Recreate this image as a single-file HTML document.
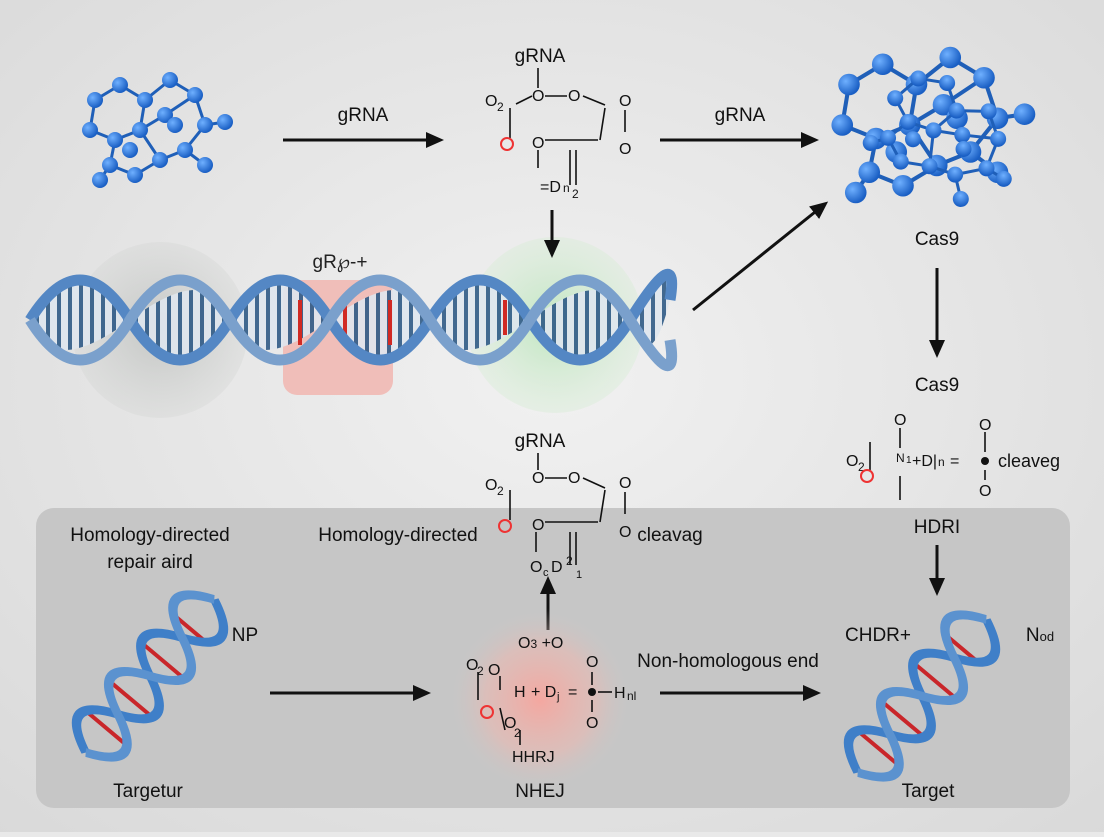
<!DOCTYPE html>
<html><head><meta charset="utf-8"><style>
html,body{margin:0;padding:0;}
body{width:1104px;height:832px;overflow:hidden;background:#e9e9e9;font-family:"Liberation Sans",sans-serif;}
</style></head><body>
<svg width="1104" height="832" viewBox="0 0 1104 832" xmlns="http://www.w3.org/2000/svg" font-family="Liberation Sans, sans-serif">
<defs>
<radialGradient id="bg" cx="50%" cy="45%" r="75%"><stop offset="0" stop-color="#f1f1f1"/><stop offset="1" stop-color="#d9d9d9"/></radialGradient>
<radialGradient id="ball" cx="35%" cy="35%" r="65%"><stop offset="0" stop-color="#6fb0ff"/><stop offset="1" stop-color="#1a5fc4"/></radialGradient>
<radialGradient id="gray" r="50%"><stop offset="0" stop-color="#c4c6c4"/><stop offset="1" stop-color="#cfd1cf" stop-opacity="0.3"/></radialGradient>
<radialGradient id="green" r="50%"><stop offset="0" stop-color="#bfe6c0"/><stop offset="1" stop-color="#d6ecd4" stop-opacity="0.4"/></radialGradient>
<radialGradient id="red" r="50%"><stop offset="0" stop-color="#f4a7a0"/><stop offset="0.6" stop-color="#e9b9b2" stop-opacity="0.6"/><stop offset="1" stop-color="#c8c8c8" stop-opacity="0"/></radialGradient>
<pattern id="rungs" width="11" height="20" patternUnits="userSpaceOnUse"><rect width="11" height="20" fill="#dfe6ee"/><rect x="2" width="4" height="20" fill="#2f5a86"/></pattern>
<marker id="ah" markerWidth="18" markerHeight="18" refX="14" refY="9" orient="auto" markerUnits="userSpaceOnUse"><path d="M0,1 L18,9 L0,17 Z" fill="#111"/></marker>
<g id="vh">
<path d="M-100,0 Q-75,-45 -50,0 T0,0 T50,0 T100,0 L100,0 Q75,45 50,0 T0,0 T-50,0 T-100,0 Z" fill="url(#rungs)"/>
<g stroke="#c9262a" stroke-width="4"><line x1="-68" y1="-20" x2="-68" y2="20"/><line x1="-30" y1="-18" x2="-30" y2="18"/><line x1="20" y1="-18" x2="20" y2="18"/><line x1="62" y1="-18" x2="62" y2="18"/></g>
<path d="M-100,0 Q-75,-45 -50,0 T0,0 T50,0 T100,0" fill="none" stroke="#3f7fc8" stroke-width="8"/>
<path d="M-100,0 Q-75,45 -50,0 T0,0 T50,0 T100,0" fill="none" stroke="#5b92cf" stroke-width="8"/>
</g>
<g id="mol" stroke="#1f5fb8" stroke-width="3">
<line x1="-60" y1="-30" x2="-35" y2="-45"/><line x1="-35" y1="-45" x2="-10" y2="-30"/><line x1="-10" y1="-30" x2="15" y2="-50"/><line x1="15" y1="-50" x2="40" y2="-35"/><line x1="40" y1="-35" x2="50" y2="-5"/><line x1="50" y1="-5" x2="70" y2="-8"/><line x1="-60" y1="-30" x2="-65" y2="0"/><line x1="-65" y1="0" x2="-40" y2="10"/><line x1="-40" y1="10" x2="-15" y2="0"/><line x1="-15" y1="0" x2="10" y2="-15"/><line x1="10" y1="-15" x2="40" y2="-35"/><line x1="-40" y1="10" x2="-45" y2="35"/><line x1="-45" y1="35" x2="-20" y2="45"/><line x1="-20" y1="45" x2="5" y2="30"/><line x1="5" y1="30" x2="30" y2="20"/><line x1="30" y1="20" x2="50" y2="-5"/><line x1="5" y1="30" x2="-15" y2="0"/><line x1="30" y1="20" x2="50" y2="35"/><line x1="-10" y1="-30" x2="-15" y2="0"/><line x1="-45" y1="35" x2="-55" y2="50"/>
<g fill="url(#ball)" stroke="none">
<circle cx="-60" cy="-30" r="8"/><circle cx="-35" cy="-45" r="8"/><circle cx="-10" cy="-30" r="8"/><circle cx="15" cy="-50" r="8"/><circle cx="40" cy="-35" r="8"/><circle cx="50" cy="-5" r="8"/><circle cx="70" cy="-8" r="8"/><circle cx="-65" cy="0" r="8"/><circle cx="-40" cy="10" r="8"/><circle cx="-15" cy="0" r="8"/><circle cx="10" cy="-15" r="8"/><circle cx="-45" cy="35" r="8"/><circle cx="-20" cy="45" r="8"/><circle cx="5" cy="30" r="8"/><circle cx="30" cy="20" r="8"/><circle cx="50" cy="35" r="8"/><circle cx="-55" cy="50" r="8"/><circle cx="-25" cy="20" r="8"/><circle cx="20" cy="-5" r="8"/>
</g></g>
</defs>
<rect width="1104" height="832" fill="url(#bg)"/>
<rect x="36" y="508" width="1034" height="300" rx="18" fill="#c6c6c6"/>

<use href="#mol" transform="translate(155 130)"/>
<use href="#mol" transform="translate(930 125) scale(1.35)"/>
<use href="#mol" transform="translate(945 140) rotate(40)"/>

<circle cx="160" cy="330" r="88" fill="url(#gray)"/>
<rect x="283" y="280" width="110" height="115" rx="14" fill="#f1b3ad" opacity="0.8"/>
<circle cx="555" cy="325" r="88" fill="url(#green)"/>
<path d="M30,320 Q80,240 130,320 T230,320 T330,320 T430,320 T530,320 T630,320 T670,300 L670,300 Q650,380 630,320 T530,320 T430,320 T330,320 T230,320 T130,320 T30,320 Z" fill="url(#rungs)" opacity="0.9"/>
<g stroke="#d12a24" stroke-width="4"><line x1="300" y1="300" x2="300" y2="345"/><line x1="345" y1="300" x2="345" y2="345"/><line x1="390" y1="300" x2="390" y2="345"/><line x1="505" y1="300" x2="505" y2="335"/></g>
<path d="M30,320 Q80,240 130,320 T230,320 T330,320 T430,320 T530,320 T630,320 T670,300" fill="none" stroke="#5487c4" stroke-width="11"/>
<path d="M30,320 Q80,400 130,320 T230,320 T330,320 T430,320 T530,320 T630,320 T670,340" fill="none" stroke="#7aa0cc" stroke-width="11"/>
<text x="340" y="268" font-size="19" text-anchor="middle" fill="#222">gR℘-+</text>

<g stroke="#111" stroke-width="3" marker-end="url(#ah)">
<line x1="283" y1="140" x2="440" y2="140"/>
<line x1="660" y1="140" x2="815" y2="140"/>
<line x1="552" y1="210" x2="552" y2="254"/>
<line x1="693" y1="310" x2="825" y2="204"/>
<line x1="937" y1="268" x2="937" y2="354"/>
<line x1="937" y1="545" x2="937" y2="592"/>
<line x1="270" y1="693" x2="427" y2="693"/>
<line x1="548" y1="630" x2="548" y2="580"/>
<line x1="660" y1="693" x2="817" y2="693"/>
</g>
<g font-size="19" fill="#111" text-anchor="middle">
<text x="363" y="121">gRNA</text><text x="740" y="121">gRNA</text>
<text x="540" y="62">gRNA</text>
<text x="937" y="245">Cas9</text><text x="937" y="391">Cas9</text>
<text x="937" y="533">HDRI</text>
<text x="540" y="447">gRNA</text>
</g>

<g font-size="16" fill="#111" stroke="#111" stroke-width="1.6">
<g fill="none"><line x1="538" y1="68" x2="538" y2="88"/><line x1="545" y1="96" x2="567" y2="96"/><line x1="583" y1="96" x2="605" y2="105"/><line x1="605" y1="108" x2="600" y2="140"/><line x1="545" y1="140" x2="598" y2="140"/><line x1="510" y1="108" x2="510" y2="138"/><line x1="516" y1="104" x2="532" y2="96"/><line x1="538" y1="150" x2="538" y2="168"/><line x1="570" y1="150" x2="570" y2="185"/><line x1="576" y1="150" x2="576" y2="185"/><line x1="625" y1="110" x2="625" y2="132"/></g>
<g stroke="none"><text x="485" y="106">O</text><text x="497" y="111" font-size="12">2</text><text x="532" y="101">O</text><text x="568" y="101">O</text><text x="619" y="106">O</text><text x="619" y="154">O</text><text x="532" y="148">O</text><text x="540" y="192">=D</text><text x="563" y="192" font-size="12">n</text><text x="572" y="198" font-size="12">2</text></g>
<circle cx="507" cy="144" r="6" fill="none" stroke="#e33" stroke-width="2"/>
</g>

<g font-size="16" fill="#111" stroke="#111" stroke-width="1.6">
<g fill="none"><line x1="870" y1="442" x2="870" y2="470"/><line x1="900" y1="428" x2="900" y2="448"/><line x1="900" y1="476" x2="900" y2="500"/><line x1="985" y1="432" x2="985" y2="452"/><line x1="985" y1="470" x2="985" y2="480"/></g>
<g stroke="none"><text x="846" y="466">O</text><text x="858" y="471" font-size="12">2</text><text x="894" y="425">O</text><text x="896" y="462" font-size="12">N</text><text x="906" y="463" font-size="10">1</text><text x="912" y="466">+D|</text><text x="938" y="466" font-size="12">n</text><text x="950" y="466">=</text><text x="979" y="430">O</text><text x="979" y="496">O</text><text x="998" y="467" font-size="18">cleaveg</text></g>
<circle cx="985" cy="461" r="4" stroke="none"/>
<circle cx="867" cy="476" r="6" fill="none" stroke="#e33" stroke-width="2"/>
</g>

<g font-size="16" fill="#111" stroke="#111" stroke-width="1.6">
<g fill="none"><line x1="538" y1="453" x2="538" y2="470"/><line x1="545" y1="478" x2="567" y2="478"/><line x1="583" y1="478" x2="605" y2="488"/><line x1="605" y1="490" x2="600" y2="522"/><line x1="545" y1="522" x2="598" y2="522"/><line x1="510" y1="490" x2="510" y2="520"/><line x1="570" y1="532" x2="570" y2="565"/><line x1="576" y1="532" x2="576" y2="565"/><line x1="625" y1="492" x2="625" y2="514"/><line x1="536" y1="532" x2="536" y2="552"/></g>
<g stroke="none"><text x="485" y="490">O</text><text x="497" y="495" font-size="12">2</text><text x="532" y="483">O</text><text x="568" y="483">O</text><text x="619" y="488">O</text><text x="619" y="537">O</text><text x="532" y="530">O</text><text x="530" y="572">O</text><text x="543" y="576" font-size="11">c</text><text x="551" y="572">D</text><text x="566" y="565" font-size="12">2</text><text x="576" y="578" font-size="11">1</text></g>
<circle cx="505" cy="526" r="6" fill="none" stroke="#e33" stroke-width="2"/>
</g>

<g font-size="19" fill="#111" text-anchor="middle">
<text x="150" y="541">Homology-directed</text><text x="150" y="568">repair aird</text>
<text x="398" y="541">Homology-directed</text><text x="670" y="541">cleavag</text>
<text x="245" y="641">NP</text><text x="148" y="797">Targetur</text>
<text x="540" y="797">NHEJ</text><text x="728" y="667">Non-homologous end</text>
<text x="878" y="641">CHDR+</text><text x="1040" y="641">N<tspan font-size="13">od</tspan></text>
<text x="928" y="797">Target</text>
</g>
<use href="#vh" transform="translate(150 676) rotate(-50) scale(1.0 1.3)"/>
<use href="#vh" transform="translate(922 696) rotate(-50) scale(1.0 1.3)"/>

<circle cx="540" cy="700" r="92" fill="url(#red)"/>
<g font-size="16" fill="#111" stroke="#111" stroke-width="1.6">
<g fill="none"><line x1="478" y1="672" x2="478" y2="700"/><line x1="500" y1="676" x2="500" y2="690"/><line x1="500" y1="708" x2="505" y2="730"/><line x1="592" y1="672" x2="592" y2="685"/><line x1="592" y1="700" x2="592" y2="712"/><line x1="598" y1="692" x2="612" y2="692"/><line x1="520" y1="745" x2="520" y2="730"/></g>
<g stroke="none"><text x="518" y="648">O<tspan font-size="12">3</tspan> +O</text><text x="466" y="670">O</text><text x="477" y="675" font-size="12">2</text><text x="488" y="675">O</text><text x="514" y="697">H</text><text x="531" y="697">+ D</text><text x="557" y="700" font-size="11">j</text><text x="568" y="697">=</text><text x="586" y="667">O</text><text x="586" y="728">O</text><text x="614" y="698">H</text><text x="627" y="700" font-size="12">nl</text><text x="504" y="728">O</text><text x="514" y="737" font-size="12">2</text><text x="512" y="762">HHRJ</text></g>
<circle cx="592" cy="692" r="4" stroke="none"/>
<circle cx="487" cy="712" r="6" fill="none" stroke="#e33" stroke-width="2"/>
</g>
</svg>
</body></html>
